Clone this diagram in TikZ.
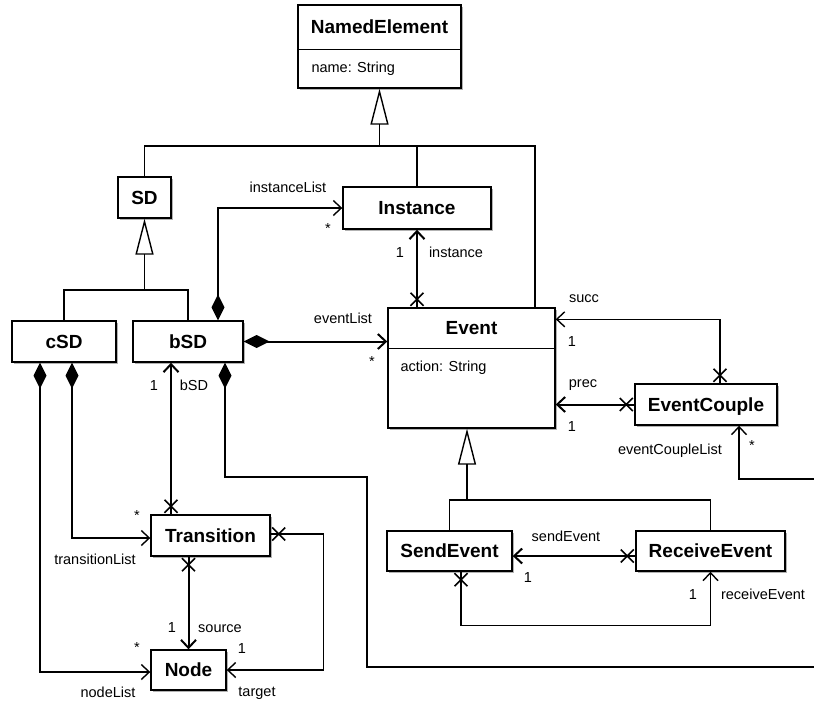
\documentclass[tikz,border=0pt]{standalone}
\usepackage{fontspec}
\setmainfont{Liberation Sans}
\usetikzlibrary{arrows.meta,calc,shadows,decorations.markings}
\begin{document}
\begin{tikzpicture}[x=1pt,y=-1pt,
  cls/.style={draw,line width=1.4pt,fill=white,inner sep=0pt,
    font=\bfseries\fontsize{19}{22}\selectfont,text height=13.6pt,text depth=0pt,
    drop shadow={shadow xshift=1.6pt,shadow yshift=-1.6pt,fill=black,opacity=0.3}},
  ttl/.style={inner sep=0pt,font=\bfseries\fontsize{19}{22}\selectfont,text height=13.6pt,text depth=0pt},
  lbl/.style={inner sep=0pt,font=\fontsize{14.5}{17}\selectfont,text height=10.4pt,text depth=0pt},
  ast/.style={inner sep=0pt,font=\fontsize{14.5}{17}\selectfont},
  ln/.style={line width=1.4pt},
  thk/.style={line width=2pt},
  gen/.style={ln,-{Triangle[open,length=36pt,width=18pt,line width=1.4pt]}},
  navend/.style={ln,-{Straight Barb[length=8pt,width=15pt]}},
  navstart/.style={ln,{Straight Barb[length=8pt,width=15pt]}-},
  compnav/.style={ln,{Diamond[length=26pt,width=13pt]}-{Straight Barb[length=8pt,width=15pt]}},
  comp/.style={ln,{Diamond[length=26pt,width=13pt]}-},
  xs/.style={postaction={decorate,decoration={markings,mark=at position 8pt with {\draw[line width=1.6pt,-] (-6.5pt,-6.5pt)--(6.5pt,6.5pt) (-6.5pt,6.5pt)--(6.5pt,-6.5pt);}}}},
  xe/.style={postaction={decorate,decoration={markings,mark=at position -8pt with {\draw[line width=1.6pt,-] (-6.5pt,-6.5pt)--(6.5pt,6.5pt) (-6.5pt,6.5pt)--(6.5pt,-6.5pt);}}}}
]
\useasboundingbox (0,0) rectangle (814,705);

% ---------- classes ----------
\node[cls,minimum width=163pt,minimum height=83pt] (NE) at (379.5,46.5) {};
\node[ttl] (NEt) at ($(NE.north)+(0,22)$) {NamedElement};
\draw[ln] ($(NE.north west)+(0,45)$) -- ($(NE.north east)+(0,45)$);
\node[lbl,anchor=west] (NEa) at ($(NE.north west)+(14,63)$) {name: String};

\node[cls,minimum width=53pt,minimum height=41pt] (SD) at (144.5,197.5) {SD};
\node[cls,minimum width=148pt,minimum height=42pt] (Instance) at (417,208) {Instance};
\node[cls,minimum width=104pt,minimum height=41pt] (cSD) at (64,341.5) {cSD};
\node[cls,minimum width=110pt,minimum height=41pt] (bSD) at (188,341.5) {bSD};

\node[cls,minimum width=167pt,minimum height=120pt] (Event) at (471.5,368) {};
\node[ttl] (Eventt) at ($(Event.north)+(0,20.5)$) {Event};
\draw[ln] ($(Event.north west)+(0,41)$) -- ($(Event.north east)+(0,41)$);
\node[lbl,anchor=west] (Eventa) at ($(Event.north west)+(13,59)$) {action: String};

\node[cls,minimum width=142pt,minimum height=41pt] (EC) at (706,404.5) {EventCouple};
\node[cls,minimum width=125pt,minimum height=40pt] (SE) at (449.5,551) {SendEvent};
\node[cls,minimum width=149pt,minimum height=40pt] (RE) at (710.5,551) {ReceiveEvent};
\node[cls,minimum width=119pt,minimum height=41pt] (Tr) at (210.5,535.5) {Transition};
\node[cls,minimum width=75pt,minimum height=40pt] (Nd) at (188.5,670) {Node};

% ---------- generalizations ----------
\coordinate (gNE) at (379.5,146);
\coordinate (gEv) at (535,146);
\draw[gen] (gNE) -- (NE.south);
\draw[ln] (SD.north) |- (gEv) -- (gEv |- Event.north);
\draw[ln] (Instance.north) -- (Instance.north |- gNE);

\coordinate (gSD) at (144.5,290);
\draw[gen] (gSD) -- (SD.south);
\draw[ln] (cSD.north) |- (gSD) -| (bSD.north);

\coordinate (gE) at (467,500);
\draw[gen] (gE) -- (gE |- Event.south);
\draw[ln] (SE.north) |- (gE) -| (RE.north);

% ---------- associations ----------
\draw[compnav] ($(bSD.north)+(30,0)$) |- (Instance.west);
\node[lbl] (l1) at (288,187) {instanceList};
\node[ast] (l2) at (328,229) {*};

\draw[navend,thk,xs] (Event.north -| Instance.south) -- (Instance.south);
\node[lbl] (l3) at (400,252) {1};
\node[lbl] (l4) at (456,252) {instance};

\draw[compnav,thk] (bSD.east) -- (bSD.east -| Event.west);
\node[lbl] (l5) at (343,318) {eventList};
\node[ast] (l6) at (372,362) {*};

\draw[navend,xs] ($(EC.north)+(14,0)$) |- ($(Event.north east)+(0,12)$);
\node[lbl] (l7) at (584,297) {succ};
\node[lbl] (l8) at (572,341) {1};

\draw[navend,thk,xs] (EC.west) -- (EC.west -| Event.east);
\node[lbl] (l9) at (583,382) {prec};
\node[lbl] (l10) at (572,426) {1};

\coordinate (eclEnd) at (814,479);
\draw[navend] (eclEnd) -| ($(EC.south)+(33,0)$);
\node[lbl] (l11) at (670,449) {eventCoupleList};
\node[ast] (l12) at (752,446) {*};

\coordinate (bsdEnd) at (814,667);
\coordinate (bsdMid) at (367,477);
\draw[comp] ($(bSD.south)+(37,0)$) |- (bsdMid) |- (bsdEnd);

\draw[compnav] ($(cSD.south)+(-24,0)$) |- ($(Nd.west)+(0,2)$);
\node[lbl] (l13) at (108,692) {nodeList};
\node[ast] (l14) at (137,648) {*};

\draw[compnav] ($(cSD.south)+(8,0)$) |- ($(Tr.west)+(0,2.5)$);
\node[lbl] (l15) at (95,559) {transitionList};
\node[ast] (l16) at (137,516) {*};

\draw[navstart,thk,xe] ($(bSD.south)+(-17,0)$) coordinate (t1) -- (t1 |- Tr.north);
\node[lbl] (l17) at (154,385) {1};
\node[lbl] (l18) at (194,385) {bSD};

\draw[navend,thk,xs] (Tr.south -| Nd.north) -- (Nd.north);
\node[lbl] (l19) at (172,627) {1};
\node[lbl] (l20) at (220,627) {source};

\draw[navend,xs] ($(Tr.east)+(0,-1.5)$) -- ++(53,0) |- (Nd.east);
\node[lbl] (l21) at (242,648) {1};
\node[lbl] (l22) at (257,691) {target};

\draw[navend,thk,xs] ($(RE.west)+(0,5)$) coordinate (s1) -- (s1 -| SE.east);
\node[lbl] (l23) at (566,536) {sendEvent};
\node[lbl] (l24) at (528,577) {1};

\draw[navend,xs] ($(SE.south)+(11.5,0)$) -- ++(0,54) -| (RE.south);
\node[lbl] (l25) at (693,594) {1};
\node[lbl] (l26) at (763,594) {receiveEvent};
\end{tikzpicture}
\end{document}
